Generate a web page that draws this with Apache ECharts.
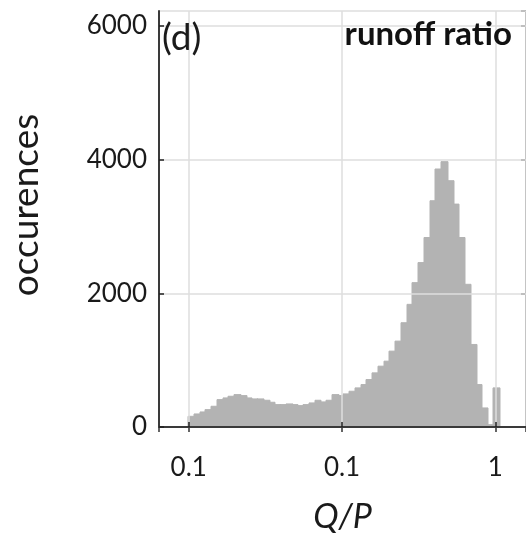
<!DOCTYPE html>
<html>
<head>
<meta charset="utf-8">
<script src="https://cdn.jsdelivr.net/npm/echarts@6/dist/echarts.min.js"></script>
<style>
  html, body { margin: 0; padding: 0; background: #fff; }
  #chart { width: 526px; height: 539px; }
</style>
</head>
<body>
<div id="chart"></div>
<script>
// Histogram of runoff ratio Q/P, bins equally spaced in log10(Q/P)
const binStartLog = -2;       // lower edge of the first bin, log10(Q/P)
const binWidthLog = 0.0375;   // bin width in decades
const counts = [
  160, 195, 225, 260, 310, 410, 435, 460, 485, 470,
  435, 420, 420, 400, 370, 335, 335, 345, 335, 320,
  335, 360, 400, 375, 400, 485, 470, 495, 535, 585,
  635, 710, 810, 910, 985, 1135, 1285, 1560, 1835, 2160,
  2460, 2835, 3385, 3860, 3970, 3685, 3335, 2835, 2135, 1235,
  635, 285, 35, 585
];
const xTickValues = [0.01, 0.1, 1];
const xTickLabels = ['0.1', '0.1', '1'];
const yTicks = [0, 2000, 4000, 6000];

const xMin = Math.pow(10, -2.194);
const xMax = Math.pow(10, 0.2);
const yMax = 6224;

const bins = counts.map((c, i) => [
  Math.pow(10, binStartLog + i * binWidthLog),
  Math.pow(10, binStartLog + (i + 1) * binWidthLog),
  c
]);

const FONT = 'Lato';
const BAR = '#b3b3b3';
const chart = echarts.init(document.getElementById('chart'));

function xLabel(v) {
  for (let i = 0; i < xTickValues.length; i++) {
    if (Math.abs(Math.log10(v) - Math.log10(xTickValues[i])) < 1e-6) return xTickLabels[i];
  }
  return '';
}

chart.setOption({
  animation: false,
  backgroundColor: '#fff',
  grid: { left: 154, right: 0, top: 11, bottom: 111, containLabel: false },
  xAxis: [
    {
      type: 'log',
      logBase: 10,
      min: xMin,
      max: xMax,
      position: 'bottom',
      name: 'Q/P',
      nameLocation: 'middle',
      nameGap: 73,
      nameTextStyle: { fontFamily: FONT, fontSize: 34, fontStyle: 'italic', color: '#1a1a1a' },
      axisLine: { show: true, lineStyle: { color: '#3a3a3a', width: 2 } },
      axisTick: { show: true, inside: true, length: 5, lineStyle: { color: '#222', width: 1.5 } },
      axisLabel: {
        show: true, margin: 28, fontFamily: FONT, fontSize: 26, color: '#1a1a1a',
        showMinLabel: false, showMaxLabel: false,
        formatter: xLabel
      },
      splitLine: { show: true, lineStyle: { color: '#dedede', width: 1.5 } },
      z: 5
    },
    {
      type: 'log',
      logBase: 10,
      min: xMin,
      max: xMax,
      position: 'top',
      axisLine: { show: true, lineStyle: { color: '#4a4a4a', width: 1.5 } },
      axisTick: { show: true, inside: true, length: 5, lineStyle: { color: '#333', width: 1.5 } },
      axisLabel: { show: false },
      splitLine: { show: false }
    }
  ],
  yAxis: [
    {
      type: 'value',
      min: 0,
      max: yMax,
      interval: 2000,
      name: 'occurences',
      nameLocation: 'middle',
      nameGap: 114,
      nameTextStyle: { fontFamily: FONT, fontSize: 37, color: '#1a1a1a', padding: [0, 0, 0, 28] },
      axisLine: { show: true, lineStyle: { color: '#3a3a3a', width: 2 } },
      axisTick: { show: true, inside: true, length: 5, lineStyle: { color: '#222', width: 1.5 } },
      axisLabel: {
        show: true, margin: 12, fontFamily: FONT, fontSize: 26, color: '#1a1a1a',
        showMaxLabel: false,
        formatter: v => (yTicks.indexOf(v) >= 0 ? String(v) : '')
      },
      splitLine: { show: true, lineStyle: { color: '#dedede', width: 1.5 } },
      z: 5
    },
    {
      type: 'value',
      min: 0,
      max: yMax,
      interval: 2000,
      position: 'right',
      axisLine: { show: true, lineStyle: { color: '#4a4a4a', width: 1.5 } },
      axisTick: { show: true, inside: true, length: 5, lineStyle: { color: '#333', width: 1.5 } },
      axisLabel: { show: false },
      splitLine: { show: false }
    }
  ],
  graphic: [
    {
      type: 'text', left: 162, top: 20, z: 100,
      style: { text: '(d)', fontFamily: FONT, fontSize: 37, fill: '#1a1a1a' }
    },
    {
      type: 'text', right: 14, top: 18, z: 100,
      style: { text: 'runoff ratio', fontFamily: FONT, fontSize: 33, fontWeight: 'bold', fill: '#111' }
    }
  ],
  series: [
    {
      type: 'custom',
      xAxisIndex: 0,
      yAxisIndex: 0,
      data: bins,
      encode: { x: [0, 1], y: 2 },
      clip: true,
      z: 3,
      emphasis: { disabled: true },
      renderItem: function (params, api) {
        const p0 = api.coord([api.value(0), 0]);
        const p1 = api.coord([api.value(1), api.value(2)]);
        // snap to whole pixels so neighbouring bins touch without seams
        const x0 = Math.floor(p0[0]);
        const x1 = Math.ceil(p1[0]);
        return {
          type: 'rect',
          shape: { x: x0, y: p1[1], width: x1 - x0, height: p0[1] - p1[1] },
          style: { fill: BAR, stroke: BAR, lineWidth: 1 }
        };
      }
    }
  ]
});
</script>
</body>
</html>
